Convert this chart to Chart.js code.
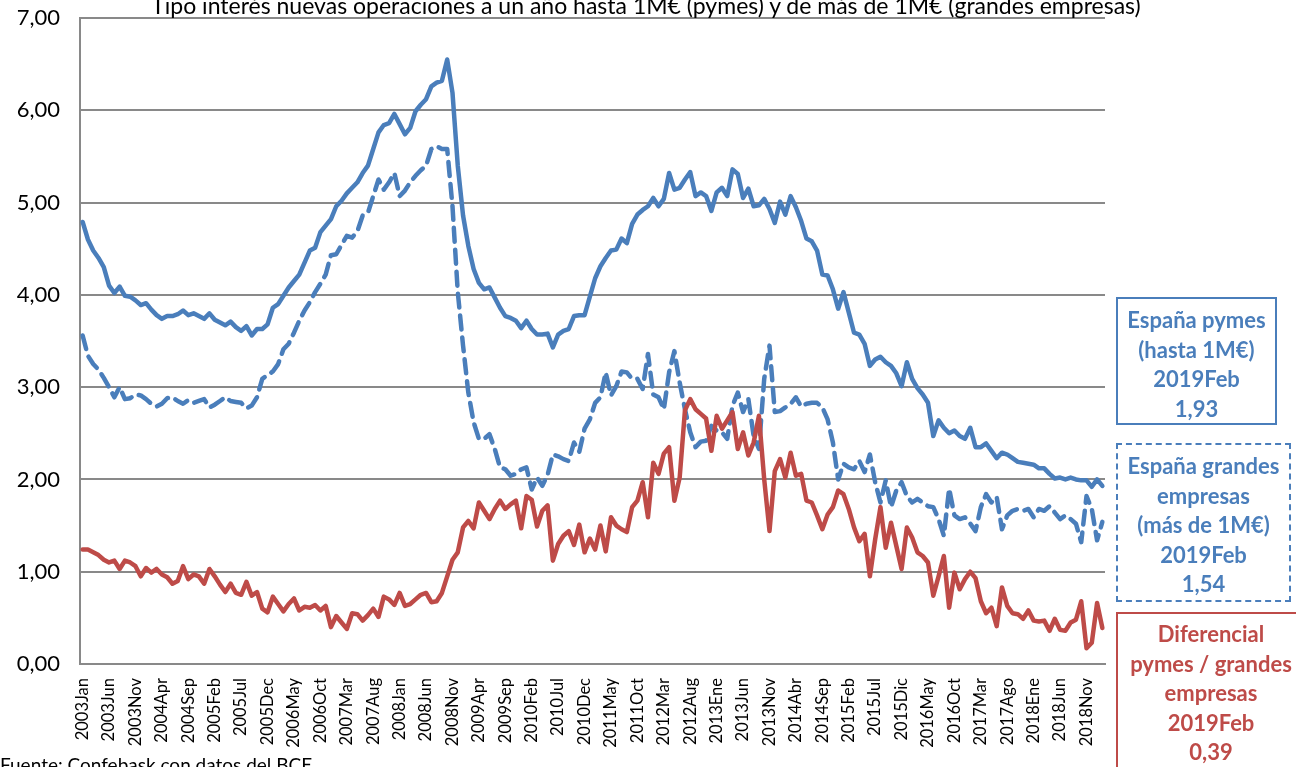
<!DOCTYPE html>
<html>
<head>
<meta charset="utf-8">
<script src="https://cdn.jsdelivr.net/npm/chart.js@4.4.0/dist/chart.umd.min.js"></script>
<style>
  body { margin: 0; background: #fff; }
  #wrap { position: relative; width: 1296px; height: 767px; overflow: hidden; background: #fff; font-family: Lato, "Open Sans", sans-serif; }
  #c { position: absolute; left: 0; top: 0; }
  .title { position: absolute; left: 0; width: 1292px; top: -8px; text-align: center; font-size: 23px; line-height: 26px; color: #000; white-space: nowrap; }
  .source { position: absolute; left: 0; top: 754px; font-size: 19px; line-height: 22px; color: #000; white-space: nowrap; }
  .box { position: absolute; text-align: center; font-weight: bold; font-size: 22px; line-height: 29.5px; box-sizing: border-box; white-space: nowrap; }
  .blue { color: #4A7EBB; border: 2px solid #4A7EBB; }
  .dash { color: #4A7EBB; border: 2px dashed #4A7EBB; }
  .red { color: #BE4B48; border: 2px solid #BE4B48; }
</style>
</head>
<body>
<div id="wrap">
  <canvas id="c" width="1296" height="767"></canvas>
  <div class="title">Tipo interés nuevas operaciones a un año hasta 1M€ (pymes) y de más de 1M€ (grandes empresas)</div>
  <div class="box blue" style="left:1116px; top:297px; width:161px; height:128px; padding-top:6px;">España pymes<br>(hasta 1M€)<br>2019Feb<br>1,93</div>
  <div class="box dash" style="left:1116px; top:443px; width:175px; height:159px; padding-top:6px;">España grandes<br>empresas<br>(más de 1M€)<br>2019Feb<br>1,54</div>
  <div class="box red" style="left:1116px; top:612px; width:190px; height:170px; padding-top:5px;">Diferencial<br>pymes / grandes<br>empresas<br>2019Feb<br>0,39</div>
  <div class="source">Fuente: Confebask con datos del BCE</div>
</div>
<script>
// tipo pymes (hasta 1M€), 2003Jan - 2019Feb
const pymes = [
  4.79, 4.60, 4.48, 4.40, 4.30, 4.10, 4.02, 4.09, 3.99, 3.98,
  3.94, 3.89, 3.91, 3.84, 3.78, 3.74, 3.77, 3.77, 3.79, 3.83,
  3.78, 3.80, 3.77, 3.74, 3.80, 3.73, 3.70, 3.67, 3.71, 3.65,
  3.61, 3.66, 3.56, 3.63, 3.63, 3.68, 3.86, 3.90, 3.99, 4.08,
  4.15, 4.22, 4.35, 4.48, 4.51, 4.68, 4.75, 4.82, 4.96, 5.02,
  5.10, 5.16, 5.22, 5.32, 5.40, 5.58, 5.76, 5.84, 5.86, 5.96,
  5.85, 5.74, 5.81, 5.99, 6.06, 6.12, 6.26, 6.30, 6.32, 6.55,
  6.19, 5.40, 4.86, 4.53, 4.28, 4.13, 4.06, 4.08, 3.97, 3.86,
  3.77, 3.75, 3.72, 3.64, 3.72, 3.63, 3.57, 3.57, 3.58, 3.43,
  3.57, 3.61, 3.63, 3.77, 3.78, 3.78, 3.98, 4.18, 4.31, 4.40,
  4.48, 4.49, 4.61, 4.56, 4.77, 4.87, 4.92, 4.96, 5.05, 4.96,
  5.04, 5.32, 5.14, 5.16, 5.25, 5.33, 5.07, 5.11, 5.07, 4.91,
  5.11, 5.16, 5.07, 5.36, 5.31, 5.05, 5.15, 4.96, 4.97, 5.04,
  4.93, 4.78, 5.01, 4.87, 5.07, 4.95, 4.80, 4.61, 4.58, 4.48,
  4.22, 4.21, 4.06, 3.85, 4.03, 3.81, 3.59, 3.57, 3.47, 3.23,
  3.30, 3.33, 3.27, 3.23, 3.15, 3.01, 3.27, 3.09, 2.99, 2.92,
  2.83, 2.47, 2.64, 2.56, 2.50, 2.53, 2.47, 2.44, 2.56, 2.35,
  2.35, 2.39, 2.31, 2.23, 2.29, 2.27, 2.23, 2.19, 2.18, 2.17,
  2.16, 2.12, 2.12, 2.06, 2.01, 2.02, 2.00, 2.02, 2.00, 1.99,
  1.99, 1.92, 2.00, 1.93
];

// tipo grandes empresas (más de 1M€)
const grandes = [
  3.56, 3.34, 3.25, 3.19, 3.10, 3.00, 2.89, 3.00, 2.87, 2.88,
  2.92, 2.91, 2.87, 2.82, 2.79, 2.82, 2.88, 2.89, 2.85, 2.82,
  2.86, 2.83, 2.85, 2.87, 2.78, 2.81, 2.85, 2.89, 2.85, 2.84,
  2.83, 2.77, 2.80, 2.89, 3.09, 3.13, 3.17, 3.25, 3.41, 3.47,
  3.59, 3.72, 3.83, 3.92, 4.03, 4.12, 4.22, 4.43, 4.44, 4.54,
  4.64, 4.62, 4.69, 4.86, 4.89, 5.07, 5.25, 5.14, 5.22, 5.32,
  5.07, 5.13, 5.22, 5.29, 5.35, 5.40, 5.58, 5.61, 5.58, 5.58,
  4.96, 4.03, 3.45, 2.94, 2.62, 2.44, 2.44, 2.49, 2.33, 2.13,
  2.11, 2.04, 2.06, 2.11, 2.13, 1.89, 2.02, 1.93, 2.05, 2.27,
  2.25, 2.22, 2.20, 2.40, 2.30, 2.55, 2.65, 2.83, 2.89, 3.16,
  2.91, 3.01, 3.17, 3.16, 3.09, 3.09, 2.98, 3.36, 2.92, 2.89,
  2.76, 3.16, 3.39, 3.05, 2.76, 2.51, 2.35, 2.41, 2.42, 2.58,
  2.53, 2.51, 2.44, 2.80, 2.94, 2.73, 2.87, 2.47, 2.33, 3.09,
  3.45, 2.73, 2.74, 2.78, 2.82, 2.89, 2.79, 2.82, 2.83, 2.83,
  2.78, 2.65, 2.40, 2.00, 2.17, 2.13, 2.11, 2.20, 2.08, 2.27,
  1.97, 1.75, 1.99, 1.70, 1.88, 1.97, 1.82, 1.75, 1.79, 1.75,
  1.71, 1.70, 1.57, 1.39, 1.90, 1.61, 1.57, 1.59, 1.52, 1.44,
  1.70, 1.84, 1.75, 1.81, 1.46, 1.61, 1.66, 1.68, 1.66, 1.68,
  1.59, 1.68, 1.66, 1.71, 1.64, 1.57, 1.61, 1.57, 1.52, 1.32,
  1.82, 1.68, 1.34, 1.54
];

// diferencial pymes / grandes empresas
const diferencial = [
  1.24, 1.24, 1.21, 1.18, 1.13, 1.10, 1.12, 1.03, 1.12, 1.10,
  1.06, 0.95, 1.04, 0.99, 1.03, 0.97, 0.94, 0.87, 0.90, 1.06,
  0.92, 0.97, 0.95, 0.87, 1.03, 0.95, 0.86, 0.78, 0.87, 0.77,
  0.75, 0.89, 0.74, 0.78, 0.60, 0.56, 0.73, 0.65, 0.57, 0.65,
  0.71, 0.58, 0.62, 0.61, 0.64, 0.58, 0.63, 0.40, 0.52, 0.45,
  0.38, 0.55, 0.54, 0.47, 0.53, 0.60, 0.51, 0.73, 0.70, 0.64,
  0.77, 0.63, 0.65, 0.70, 0.75, 0.77, 0.67, 0.68, 0.77, 0.95,
  1.13, 1.21, 1.48, 1.55, 1.47, 1.75, 1.66, 1.57, 1.68, 1.77,
  1.68, 1.73, 1.77, 1.47, 1.82, 1.78, 1.49, 1.66, 1.72, 1.12,
  1.30, 1.39, 1.44, 1.29, 1.51, 1.21, 1.36, 1.24, 1.50, 1.22,
  1.59, 1.50, 1.46, 1.43, 1.70, 1.77, 1.97, 1.59, 2.18, 2.06,
  2.28, 2.35, 1.77, 2.02, 2.75, 2.87, 2.76, 2.71, 2.66, 2.31,
  2.69, 2.55, 2.64, 2.73, 2.33, 2.51, 2.26, 2.40, 2.69, 2.00,
  1.44, 2.09, 2.22, 2.02, 2.29, 2.04, 2.06, 1.77, 1.75, 1.61,
  1.46, 1.62, 1.70, 1.88, 1.84, 1.68, 1.48, 1.33, 1.41, 0.95,
  1.35, 1.70, 1.26, 1.53, 1.28, 1.03, 1.48, 1.37, 1.21, 1.17,
  1.10, 0.74, 0.95, 1.17, 0.61, 0.99, 0.81, 0.92, 1.00, 0.93,
  0.68, 0.55, 0.61, 0.41, 0.83, 0.63, 0.55, 0.54, 0.49, 0.58,
  0.47, 0.46, 0.47, 0.36, 0.49, 0.37, 0.36, 0.45, 0.48, 0.68,
  0.17, 0.23, 0.66, 0.39
];

// etiquetas del eje, una cada 5 meses
const tickLabels = [
  '2003Jan', '2003Jun', '2003Nov', '2004Apr', '2004Sep', '2005Feb', '2005Jul', '2005Dec',
  '2006May', '2006Oct', '2007Mar', '2007Aug', '2008Jan', '2008Jun', '2008Nov', '2009Apr',
  '2009Sep', '2010Feb', '2010Jul', '2010Dec', '2011May', '2011Oct', '2012Mar', '2012Aug',
  '2013Ene', '2013Jun', '2013Nov', '2014Abr', '2014Sep', '2015Feb', '2015Jul', '2015Dic',
  '2016May', '2016Oct', '2017Mar', '2017Ago', '2018Ene', '2018Jun', '2018Nov'
];

const months = pymes.map((_, i) => (2003 + Math.floor(i / 12)) + '-' + String(i % 12 + 1).padStart(2, '0'));

const gridColor = '#898989';
const font = 'Lato, "Open Sans", sans-serif';

new Chart(document.getElementById('c'), {
  type: 'line',
  data: {
    labels: months,
    datasets: [
      {
        label: 'Diferencial pymes / grandes empresas',
        data: diferencial,
        borderColor: '#BE4B48',
        borderWidth: 4.5,
        order: 0
      },
      {
        label: 'España pymes (hasta 1M€)',
        data: pymes,
        borderColor: '#4A7EBB',
        borderWidth: 4.5,
        order: 1
      },
      {
        label: 'España grandes empresas (más de 1M€)',
        data: grandes,
        borderColor: '#4A7EBB',
        borderWidth: 4.5,
        borderDash: [14, 8],
        order: 2
      }
    ]
  },
  options: {
    responsive: false,
    animation: false,
    datasets: {
      line: { pointRadius: 0, tension: 0, fill: false, borderJoinStyle: 'round', borderCapStyle: 'round' }
    },
    layout: { padding: { left: 0, right: 191, top: 18, bottom: 0 } },
    plugins: {
      legend: { display: false },
      tooltip: { enabled: false }
    },
    scales: {
      x: {
        type: 'category',
        offset: true,
        grid: { display: false },
        border: { color: gridColor, width: 2 },
        ticks: {
          autoSkip: false,
          minRotation: 90,
          maxRotation: 90,
          padding: 6,
          color: '#000',
          font: { family: font, size: 16.5 },
          callback: (v, i) => (i % 5 === 0 ? tickLabels[i / 5] : '')
        },
        afterFit: s => { s.height = 103; s.paddingTop = 0; s.paddingLeft = 0; s.paddingRight = 0 }
      },
      y: {
        min: 0,
        max: 7,
        grid: { color: gridColor, lineWidth: 2, drawTicks: false },
        border: { color: gridColor, width: 2 },
        ticks: {
          stepSize: 1,
          padding: 20,
          color: '#000',
          font: { family: font, size: 22 },
          callback: v => v.toFixed(2).replace('.', ',')
        },
        afterFit: s => { s.width = 80; s.paddingTop = 0; s.paddingBottom = 0 }
      }
    }
  }
})
</script>
</body>
</html>
